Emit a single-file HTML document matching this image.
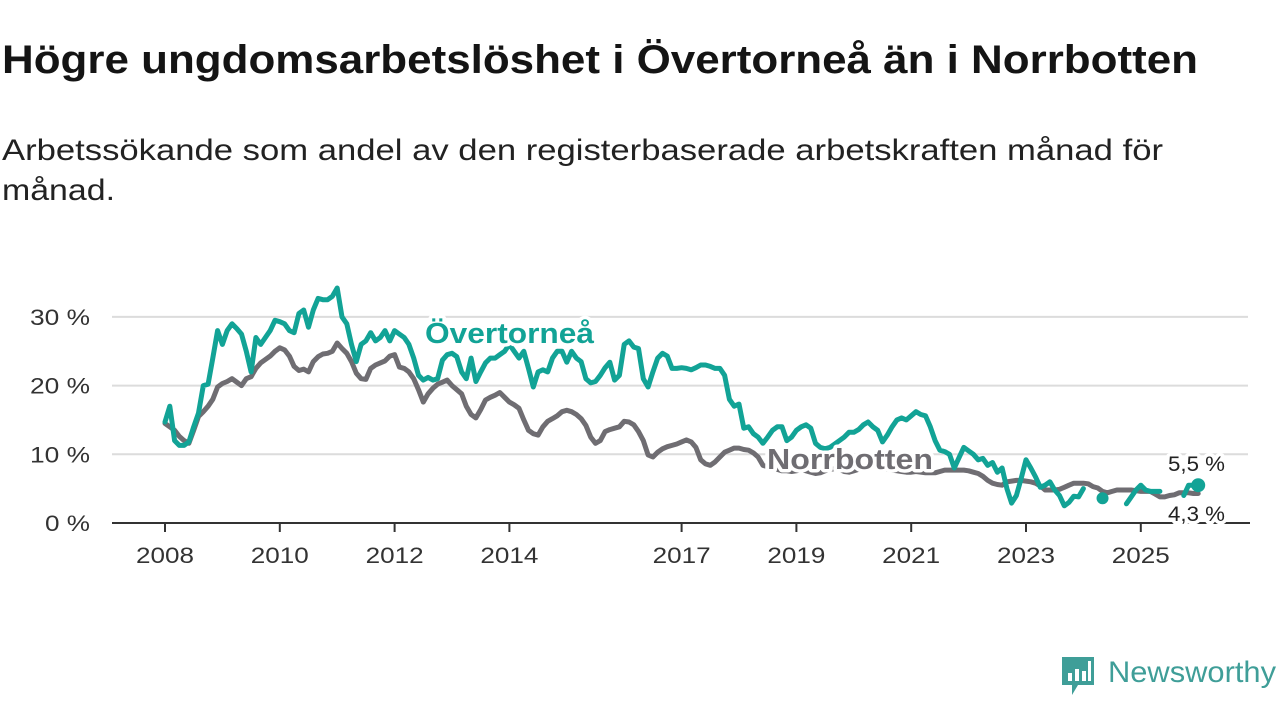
<!DOCTYPE html>
<html><head><meta charset="utf-8">
<style>
body{margin:0;width:1280px;height:720px;background:#fff;font-family:"Liberation Sans","DejaVu Sans",sans-serif;overflow:hidden;position:relative}
svg{position:absolute;left:0;top:0}
</style></head><body>
<svg id="chart" width="1280" height="720">
<text x="2" y="73" font-size="40" font-weight="bold" fill="#141414" textLength="1196" lengthAdjust="spacingAndGlyphs">Högre ungdomsarbetslöshet i Övertorneå än i Norrbotten</text>
<text x="2" y="160" font-size="30" fill="#222" textLength="1161" lengthAdjust="spacingAndGlyphs">Arbetssökande som andel av den registerbaserade arbetskraften månad för</text>
<text x="2" y="200" font-size="30" fill="#222" textLength="113" lengthAdjust="spacingAndGlyphs">månad.</text>
</svg>
<script>
const yTicks=[0,10,20,30];
const yTickLabels=["0 %","10 %","20 %","30 %"];
const xTickYears=[2008,2010,2012,2014,2017,2019,2021,2023,2025];
const startYear=2008;
const overtornea=[
14.7,17,12,11.3,11.3,11.8,14,16,20,20.2,24,28,
26,28,29,28.3,27.5,25,22,27,26,27,28,29.5,
29.3,29,28,27.7,30.5,31,28.5,31,32.7,32.5,32.5,33,
34.2,30,29,26,23.5,26,26.5,27.7,26.5,27,28,26.5,
28,27.5,27,26,24,21.5,20.8,21.2,20.8,21,23.7,24.5,
24.7,24.2,22,21,24,20.6,22,23.3,24,24,24.5,25,
26,25,24,25,22.5,19.8,22,22.3,22,24,25,25,
23.4,25,24,23.5,21,20.4,20.6,21.5,22.6,23.4,20.8,21.5,
26,26.5,25.6,25.4,21,19.8,22,24,24.7,24.3,22.5,22.5,
22.6,22.5,22.3,22.6,23,23,22.8,22.5,22.5,21.5,18,17,
17.3,13.8,14,13,12.5,11.6,12.5,13.5,14,14,12,12.5,
13.5,14,14.3,13.8,11.6,11,10.8,11,11.5,12,12.5,13.2,
13.2,13.6,14.3,14.7,14,13.5,11.8,12.8,14,15,15.3,15,
15.6,16.2,15.8,15.6,14,12,10.6,10.4,10,8,9.5,11,
10.5,10,9.2,9.4,8.4,8.8,7.4,8,5,2.9,4,6.5,
9.2,8,6.7,5.2,5.5,6,4.8,4,2.5,3,3.9,3.8,
5,null,null,null,3.6,null,null,null,null,2.8,3.8,4.8,
5.5,4.8,4.6,4.6,4.6,null,null,null,null,4,5.5,5.5,
5.5];
const norrbotten=[
14.5,14,13.5,12.6,12,11.6,13.5,15.5,16.2,17,18,19.8,
20.3,20.6,21,20.5,20,21,21.3,22.5,23.3,23.8,24.3,25,
25.5,25.2,24.3,22.8,22.2,22.4,22,23.5,24.2,24.6,24.7,25,
26.2,25.4,24.7,23.5,21.8,21,20.9,22.5,23,23.3,23.6,24.3,
24.5,22.7,22.5,22,21,19.4,17.6,18.8,19.6,20.2,20.5,20.8,
20,19.4,18.8,17,15.8,15.3,16.5,17.9,18.3,18.6,19,18.3,
17.6,17.2,16.7,15,13.5,13,12.8,14,14.8,15.2,15.6,16.2,
16.4,16.2,15.8,15.2,14.2,12.5,11.6,12,13.3,13.6,13.8,14,
14.8,14.7,14.3,13.3,12,9.9,9.6,10.3,10.8,11.1,11.3,11.5,
11.8,12.1,11.8,11,9.2,8.6,8.4,8.9,9.6,10.3,10.6,10.9,
10.9,10.7,10.6,10.2,9.6,8.4,8.2,8,7.8,7.6,7.6,7.5,
7.6,7.8,7.6,7.4,7.2,7.3,7.6,7.8,7.9,7.8,7.5,7.4,
7.6,7.8,8,8.2,8.3,8.1,7.9,7.8,7.7,7.6,7.5,7.4,
7.4,7.5,7.4,7.3,7.3,7.3,7.5,7.7,7.7,7.7,7.7,7.7,
7.6,7.4,7.2,6.8,6.2,5.8,5.6,5.5,6,6.1,6.2,6.2,
6.1,6,5.8,5.4,4.8,4.8,4.8,4.9,5.2,5.5,5.8,5.8,
5.8,5.7,5.3,5.1,4.6,4.4,4.6,4.8,4.8,4.8,4.8,4.7,
4.6,4.6,4.6,4.2,3.8,3.8,4,4.1,4.4,4.4,4.4,4.3,
4.3];
const lastLabels=["5,5 %","4,3 %"];

const NS="http://www.w3.org/2000/svg";
const svg=document.getElementById('chart');
const X0=165,PXY=57.4,Y0=523,PXV=6.87;
const xYear=y=>X0+(y-startYear)*PXY;
const xIdx=i=>xYear(startYear+i/12);
const yVal=v=>Y0-v*PXV;
function mk(tag,attrs){const e=document.createElementNS(NS,tag);for(const k in attrs)e.setAttribute(k,attrs[k]);svg.appendChild(e);return e;}

yTicks.forEach((t,i)=>{
  if(t>0){const g=mk('line',{x1:112,x2:1248,y1:yVal(t),y2:yVal(t),stroke:'#dcdcdc','stroke-width':2});
  
  }
  const l=mk('text',{x:90,y:yVal(t)+8,'text-anchor':'end','font-size':22,fill:'#333',textLength:yTickLabels[i].length*15,lengthAdjust:'spacingAndGlyphs'});
  l.textContent=yTickLabels[i];
  
  
});
xTickYears.forEach(yr=>{
  const x=xYear(yr);
  const t=mk('line',{x1:x,x2:x,y1:Y0,y2:Y0+9,stroke:'#333','stroke-width':2});
  
  
  const l=mk('text',{x:x-29,y:Y0+40,'font-size':22,fill:'#333',textLength:58,lengthAdjust:'spacingAndGlyphs'});
  l.textContent=yr;
  
  
});

function drawSeries(data,color,name){
  let d='';let pen=false;
  data.forEach((v,i)=>{
    if(v==null){pen=false;return;}
    const prev=i>0?data[i-1]:null,next=i<data.length-1?data[i+1]:null;
    if(prev==null&&next==null){
      const c=mk('circle',{cx:xIdx(i),cy:yVal(v),r:6,fill:color});
      
      
    }
    d+=(pen?'L':'M')+xIdx(i).toFixed(1)+','+yVal(v).toFixed(1);pen=true;
  });
  const p=mk('path',{d:d,fill:'none',stroke:color,'stroke-width':5,'stroke-linejoin':'round','stroke-linecap':'round'});
  
  
  return p;
}
drawSeries(norrbotten,'#6f6d72','norrbotten');
drawSeries(overtornea,'#12a396','overtornea');

const axis=mk('line',{x1:112,x2:1250,y1:Y0,y2:Y0,stroke:'#333','stroke-width':2});



const li=overtornea.length-1;
const d1=mk('circle',{cx:xIdx(li),cy:yVal(overtornea[li]),r:7,fill:'#12a396'});



function label(txt,x,y,size,color,bold,len,name){
  const t=mk('text',{x:x,y:y,'font-size':size,fill:color,'font-weight':bold?'bold':'normal',stroke:'#fff','stroke-width':7,'paint-order':'stroke','stroke-linejoin':'round',textLength:len,lengthAdjust:'spacingAndGlyphs'});
  t.textContent=txt;
  
  
}
label('Övertorneå',425,343,29,'#12a396',true,169,'overtornea-label');
label('Norrbotten',767,469,29,'#6f6d72',true,166,'norrbotten-label');
label(lastLabels[0],1168,471,21,'#222',false,57,'overtornea-last-value');
label(lastLabels[1],1168,521,21,'#222',false,57,'norrbotten-last-value');
</script>
<div style="position:absolute;left:1060px;top:655px;height:40px;width:220px">
<svg width="36" height="42" style="left:0;top:0">
<path d="M2 2h32v28H18l-6 10v-10H2z" fill="#3f9e98"/>
<rect x="8" y="18" width="4" height="8" fill="#fff"/><rect x="15" y="14" width="4" height="12" fill="#fff"/><rect x="22" y="16" width="4" height="10" fill="#fff"/><rect x="28" y="6" width="3" height="20" fill="#fff"/>
</svg>
<svg width="180" height="42" style="left:46px;top:0">
<text x="2" y="27" font-size="30" fill="#3f9e98" textLength="168" lengthAdjust="spacingAndGlyphs">Newsworthy</text>
</svg>
</div>
</body></html>
